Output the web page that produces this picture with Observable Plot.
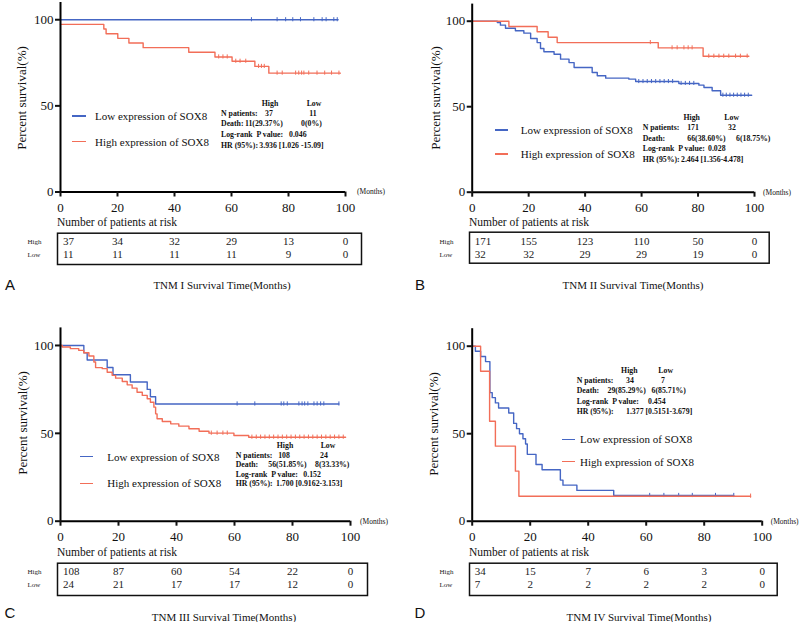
<!DOCTYPE html>
<html><head><meta charset="utf-8">
<script src="https://cdn.jsdelivr.net/npm/d3@7"></script>
<script src="https://cdn.jsdelivr.net/npm/@observablehq/plot@0.6"></script>
<style>
body{margin:0;background:#fff;}
#page{position:relative;width:800px;height:622px;overflow:hidden;font-family:'Liberation Serif','Times New Roman',serif;color:#111;}
.abs{position:absolute;white-space:pre;line-height:1;}
.svgbox{position:absolute;}
.svgbox text{font-family:'Liberation Serif','Times New Roman',serif;}
</style></head><body><div id="page"></div>
<script>
const BLUE = "#4566c4", RED = "#f26e58";
const SERIF = "'Liberation Serif', 'Times New Roman', serif";
const timeTicks = [0, 20, 40, 60, 80, 100];
const survTicks = [0, 50, 100];
const riskRows = ["High", "Low"];

// ---- Panel A (TNM I) ----
const A_blue_t = [0, 97.4];
const A_blue_s = [100, 100];
const A_blue_cens = [67, 76, 79, 81.5, 84.2, 88.9, 91.8, 93.2, 95.9, 97.1];
const A_red_t = [0, 15.2, 16, 20.1, 24, 29, 45, 54.2, 60.2, 68.2, 73.1, 98.2];
const A_red_s = [97.3, 94.6, 91.9, 89.2, 86.5, 83.8, 81.1, 78.4, 75.9, 72.9, 69.0, 69.0];
const A_red_cens = [55.5, 57, 58.5, 61.5, 63, 65, 69.5, 70.5, 71.5, 76, 77.8, 82.5, 83.6, 84.6, 85.4, 87.1, 90, 92.7, 95.1, 97.7];
const A_risk_high = [37, 34, 32, 29, 13, 0];
const A_risk_low = [11, 11, 11, 11, 9, 0];

// ---- Panel B (TNM II) ----
const B_red_t = [0, 13, 23, 26.9, 30.1, 65.9, 81.8, 98];
const B_red_s = [100, 96.9, 93.8, 90.6, 87.5, 84.4, 79.5, 79.5];
const B_red_cens = [63.1, 70.8, 72.6, 75, 76.5, 77.9, 83.8, 85.6, 87.4, 89.1, 90.9, 93.3, 95, 97.4];
const B_blue_t = [0, 8.9, 10, 11.8, 15.3, 18.3, 20.7, 23, 24.2, 25.4, 29, 31.3, 34.3, 36.1, 42.5, 44.3, 47.3, 55.5, 57.9, 73.2, 80.3, 82.1, 85, 88, 99];
const B_blue_s = [100, 99.2, 97.7, 95.9, 94.4, 93.0, 89.9, 87.5, 84, 82.1, 80.7, 77.8, 75.8, 72.9, 70, 68.1, 66.7, 66.1, 64.7, 63.6, 62.6, 61.2, 59.3, 56.7, 56.7];
const B_blue_cens = [59, 60.5, 62, 63.5, 65, 66.5, 68, 69.5, 71, 74, 75.5, 77, 78.5, 88.8, 90, 91.3, 92.6, 93.9, 95.2, 96.5, 97.8];
const B_risk_high = [171, 155, 123, 110, 50, 0];
const B_risk_low = [32, 32, 29, 29, 19, 0];

// ---- Panel C (TNM III) ----
const C_blue_t = [0, 8.05, 9.2, 16.1, 18.1, 24.1, 29.9, 31, 32.8, 96];
const C_blue_s = [100, 95.8, 91.7, 87.5, 83.3, 79.2, 75, 70.8, 66.7, 66.7];
const C_blue_cens = [60.9, 67, 76.1, 77, 78.2, 82.2, 83.3, 84.2, 85.3, 87.4, 88.5, 89.7, 90.8, 96];
const C_red_t = [0, 0.6, 3.4, 6.3, 8, 9.8, 11.5, 12.1, 14.4, 16.1, 17.8, 19, 21.3, 23, 24.7, 26.4, 28.2, 29.9, 31, 32.2, 32.8, 33.3, 35.1, 38, 40.8, 44.3, 47.8, 51.2, 59.8, 64.9, 98.3];
const C_red_s = [100, 99.1, 98.2, 97.2, 95.9, 94, 90.6, 87.4, 86.8, 84.8, 83, 81.4, 79.5, 77.6, 75.7, 73.4, 71.6, 69.7, 67.7, 64.9, 61.1, 58.3, 56.7, 55.4, 54.1, 52.6, 51.2, 50.1, 48.8, 47.8, 47.8];
const C_red_cens = [52, 54, 56, 57.5, 66, 67.5, 69, 70.5, 72, 73.5, 75, 76.5, 78, 79.5, 81, 82.5, 84, 85.5, 87, 88.5, 90, 91.5, 93, 94.5, 96, 97.5];
const C_risk_high = [108, 87, 60, 54, 22, 0];
const C_risk_low = [24, 21, 17, 17, 12, 0];

// ---- Panel D (TNM IV) ----
const D_red_t = [0, 2.9, 6, 8, 14.9, 16.1, 96];
const D_red_s = [100, 85.7, 57.1, 42.9, 28.6, 14.3, 14.3];
const D_red_cens = [96];
const D_blue_t = [0, 1.1, 2.9, 4.6, 6.1, 6.9, 8, 9.1, 12.6, 14.3, 15.3, 16.3, 17.5, 18.4, 19, 22, 24.1, 30.4, 31.3, 36.1, 48.8, 90.2];
const D_blue_s = [100, 97.1, 94.1, 91.2, 73.5, 70.6, 67.6, 64.7, 61.8, 55.9, 52.9, 50, 47.1, 44.1, 38.2, 32.4, 29.4, 23.5, 20.6, 17.6, 14.7, 14.7];
const D_blue_cens = [61.2, 66.1, 71.2, 75.9, 83.9, 90.2];
const D_risk_high = [34, 15, 7, 6, 3, 0];
const D_risk_low = [7, 2, 2, 2, 2, 0];

const page = document.getElementById("page");

function stepAt(ts, ss, t) {
  let v = ss[0];
  for (let i = 0; i < ts.length; i++) if (ts[i] <= t) v = ss[i];
  return v;
}

function place(node, x, y) {
  node.classList.add("svgbox");
  node.style.left = x + "px";
  node.style.top = y + "px";
  page.appendChild(node);
}

function txt(s, x, y, o = {}) {
  const d = document.createElement("div");
  d.className = "abs";
  d.textContent = s;
  d.style.fontSize = (o.size || 11) + "px";
  if (o.weight) d.style.fontWeight = o.weight;
  if (o.family) d.style.fontFamily = o.family;
  const tx = o.anchor === "middle" ? "-50%" : o.anchor === "end" ? "-100%" : "0";
  d.style.transform = o.rotate ? "translate(-50%,-50%) rotate(-90deg)" : `translate(${tx},-50%)`;
  d.style.left = x + "px";
  d.style.top = y + "px";
  page.appendChild(d);
}

function legLine(x, y, w, color) {
  const d = document.createElement("div");
  d.style.position = "absolute";
  d.style.left = x + "px";
  d.style.top = (y - 0.75) + "px";
  d.style.width = w + "px";
  d.style.height = "1.5px";
  d.style.background = color;
  page.appendChild(d);
}

const plotStyle = "font-family:'Liberation Serif','Times New Roman',serif;color:#111;background:transparent;overflow:visible;";

function kmPlot(curves, m) {
  const marks = [];
  for (const cv of curves) {
    const pts = cv.t.map((t, i) => ({t, s: cv.s[i]}));
    marks.push(Plot.line(pts, {x: "t", y: "s", curve: "step-after", stroke: cv.color, strokeWidth: 1.4}));
    const cens = cv.c.map(t => ({t, s: stepAt(cv.t, cv.s, t)}));
    marks.push(Plot.ruleX(cens, {x: "t", y1: d => d.s - 1.2, y2: d => d.s + 1.2, stroke: cv.color, strokeWidth: 1}));
  }
  marks.push(Plot.ruleY([0], {x1: 0, x2: 100, stroke: "#000", strokeWidth: 2}));
  marks.push(Plot.ruleX([0], {y1: 0, y2: 110, stroke: "#000", strokeWidth: 2}));
  marks.push(Plot.axisX(timeTicks, {tickSize: 5, tickPadding: 6, strokeWidth: 2, fontSize: 13, fontFamily: SERIF, label: null}));
  marks.push(Plot.axisY(survTicks, {tickSize: 5, tickPadding: 2, strokeWidth: 2, fontSize: 13, fontFamily: SERIF, label: null}));
  return Plot.plot({
    width: 400, height: m.h,
    marginLeft: m.l, marginRight: m.r, marginTop: m.t, marginBottom: m.b,
    x: {domain: [0, 100]}, y: {domain: [0, 110]},
    style: plotStyle,
    marks
  });
}

function riskPlot(high, low, m) {
  const rows = [];
  timeTicks.forEach((t, i) => {
    rows.push({t, row: "High", n: high[i], first: i === 0});
    rows.push({t, row: "Low", n: low[i], first: i === 0});
  });
  return Plot.plot({
    width: 400, height: 42,
    marginLeft: m.l, marginRight: m.r, marginTop: m.t, marginBottom: m.b,
    x: {domain: [0, 100], range: m.xr, axis: null},
    y: {type: "point", domain: riskRows, range: [15, 28], padding: 0, axis: null},
    style: plotStyle,
    marks: [
      Plot.frame({stroke: "#111", strokeWidth: 1.5}),
      Plot.text(rows.filter(d => d.first), {x: "t", y: "row", text: "n", textAnchor: "start", dx: 2.5, fontSize: 11, fontFamily: SERIF, fill: "#222"}),
      Plot.text(rows.filter(d => !d.first), {x: "t", y: "row", text: "n", textAnchor: "middle", fontSize: 11, fontFamily: SERIF, fill: "#222"}),
      Plot.text(riskRows, {y: d => d, text: d => d, frameAnchor: "left", textAnchor: "start", dx: -30, fontSize: 7, fontFamily: SERIF, fill: "#222"})
    ]
  });
}

function stats(x, hx, lx, y0, ys, v, o) {
  const S = {size: 7.8, weight: "bold"};
  txt("High", hx, y0, {...S, anchor: "middle"});
  txt("Low", lx, y0, {...S, anchor: "middle"});
  txt("N patients:", x, ys[0], S);
  txt(String(v.nh), o.nh, ys[0], {...S, anchor: "middle"});
  txt(String(v.nl), o.nl, ys[0], {...S, anchor: "middle"});
  txt("Death:", x, ys[1], S);
  txt(v.dh, o.dh, ys[1], S);
  txt(v.dl, o.dl, ys[1], S);
  txt("Log-rank  P value:", x, ys[2], S);
  txt(v.p, o.p, ys[2], S);
  txt("HR (95%):", x, ys[3], S);
  txt(v.hr, o.hr, ys[3], S);
}

// ===== Panel A =====
place(kmPlot([
  {t: A_blue_t, s: A_blue_s, c: A_blue_cens, color: BLUE},
  {t: A_red_t, s: A_red_s, c: A_red_cens, color: RED}
], {h: 222, l: 60, r: 55, t: 2, b: 30.5}), 0, 0);
place(riskPlot(A_risk_high, A_risk_low, {l: 57, r: 39, t: 6.7, b: 4, xr: [60, 345]}), 0, 226);
txt("Percent survival(%)", 21, 98, {size: 13, rotate: true});
txt("(Months)", 357, 192, {size: 7.5});
legLine(72, 116, 14, BLUE); txt("Low expression of SOX8", 95, 116, {size: 11});
legLine(72, 141.7, 14, RED); txt("High expression of SOX8", 95, 141.7, {size: 11});
stats(221, 270, 314, 104, [114, 124.3, 135, 145.7],
  {nh: 37, nl: 11, dh: "11(29.37%)", dl: "0(0%)", p: "0.046", hr: "3.936 [1.026 -15.09]"},
  {nh: 269, nl: 313, dh: 245, dl: 301, p: 289, hr: 259.3});
txt("Number of patients at risk", 57, 223, {size: 11.5});
txt("A", 10, 284, {size: 15, family: "'Liberation Sans', Arial, sans-serif", anchor: "middle"});
txt("TNM I Survival Time(Months)", 222, 285, {size: 11, anchor: "middle"});

// ===== Panel B =====
place(kmPlot([
  {t: B_blue_t, s: B_blue_s, c: B_blue_cens, color: BLUE},
  {t: B_red_t, s: B_red_s, c: B_red_cens, color: RED}
], {h: 222, l: 71.7, r: 46, t: 3.6, b: 30.3}), 400, 0);
place(riskPlot(B_risk_high, B_risk_low, {l: 69, r: 31.3, t: 5.7, b: 5.3, xr: [71.7, 354]}), 400, 226);
txt("Percent survival(%)", 435, 98, {size: 13, rotate: true});
txt("(Months)", 763, 192.7, {size: 7.5});
legLine(495, 130, 13, BLUE); txt("Low expression of SOX8", 520.7, 130, {size: 11});
legLine(495, 154, 13, RED); txt("High expression of SOX8", 520.7, 154, {size: 11});
stats(642.7, 691.7, 731.7, 118.3, [128, 138.7, 149.3, 160],
  {nh: 171, nl: 32, dh: "66(38.60%)", dl: "6(18.75%)", p: "0.028", hr: "2.464 [1.356-4.478]"},
  {nh: 693, nl: 732, dh: 687.3, dl: 736, p: 708, hr: 681});
txt("Number of patients at risk", 469, 223, {size: 11.5});
txt("B", 420, 284, {size: 15, family: "'Liberation Sans', Arial, sans-serif", anchor: "middle"});
txt("TNM II Survival Time(Months)", 633, 285, {size: 11, anchor: "middle"});

// ===== Panel C =====
place(kmPlot([
  {t: C_blue_t, s: C_blue_s, c: C_blue_cens, color: BLUE},
  {t: C_red_t, s: C_red_s, c: C_red_cens, color: RED}
], {h: 240, l: 60, r: 50, t: 17.4, b: 29.3}), 0, 310);
place(riskPlot(C_risk_high, C_risk_low, {l: 57, r: 33, t: 6.7, b: 3, xr: [60, 350]}), 0, 556);
txt("Percent survival(%)", 21.7, 423, {size: 13, rotate: true});
txt("(Months)", 360, 522, {size: 7.5});
legLine(80, 456.7, 13, BLUE); txt("Low expression of SOX8", 107.3, 456.7, {size: 11});
legLine(80, 483.3, 13, RED); txt("High expression of SOX8", 107.3, 483.3, {size: 11});
stats(235.7, 285, 328, 445.7, [456, 465.3, 474.7, 484],
  {nh: 108, nl: 24, dh: "56(51.85%)", dl: "8(33.33%)", p: "0.152", hr: "1.700 [0.9162-3.153]"},
  {nh: 284, nl: 324, dh: 268.3, dl: 315, p: 303.3, hr: 276});
txt("Number of patients at risk", 57, 553, {size: 11.5});
txt("C", 10, 611.7, {size: 15, family: "'Liberation Sans', Arial, sans-serif", anchor: "middle"});
txt("TNM III Survival Time(Months)", 224, 616.7, {size: 11, anchor: "middle"});

// ===== Panel D =====
place(kmPlot([
  {t: D_blue_t, s: D_blue_s, c: D_blue_cens, color: BLUE},
  {t: D_red_t, s: D_red_s, c: D_red_cens, color: RED}
], {h: 240, l: 71.7, r: 38.3, t: 18.2, b: 29.3}), 400, 310);
place(riskPlot(D_risk_high, D_risk_low, {l: 69, r: 23.3, t: 6.7, b: 3, xr: [71.7, 361.7]}), 400, 556);
txt("Percent survival(%)", 433, 424, {size: 13, rotate: true});
txt("(Months)", 770.7, 522, {size: 7.5});
legLine(561.7, 439.3, 13, BLUE); txt("Low expression of SOX8", 580, 439.3, {size: 11});
legLine(561.7, 461.7, 13, RED); txt("High expression of SOX8", 580, 461.7, {size: 11});
stats(576.7, 629.3, 665.7, 370.7, [380.7, 391, 401.7, 412.3],
  {nh: 34, nl: 7, dh: "29(85.29%)", dl: "6(85.71%)", p: "0.454", hr: "1.377 [0.5151-3.679]"},
  {nh: 630, nl: 663, dh: 607.5, dl: 651.5, p: 648, hr: 626});
txt("Number of patients at risk", 469, 553, {size: 11.5});
txt("D", 420, 611.7, {size: 15, family: "'Liberation Sans', Arial, sans-serif", anchor: "middle"});
txt("TNM IV Survival Time(Months)", 639, 616.7, {size: 11, anchor: "middle"});
</script></body></html>
